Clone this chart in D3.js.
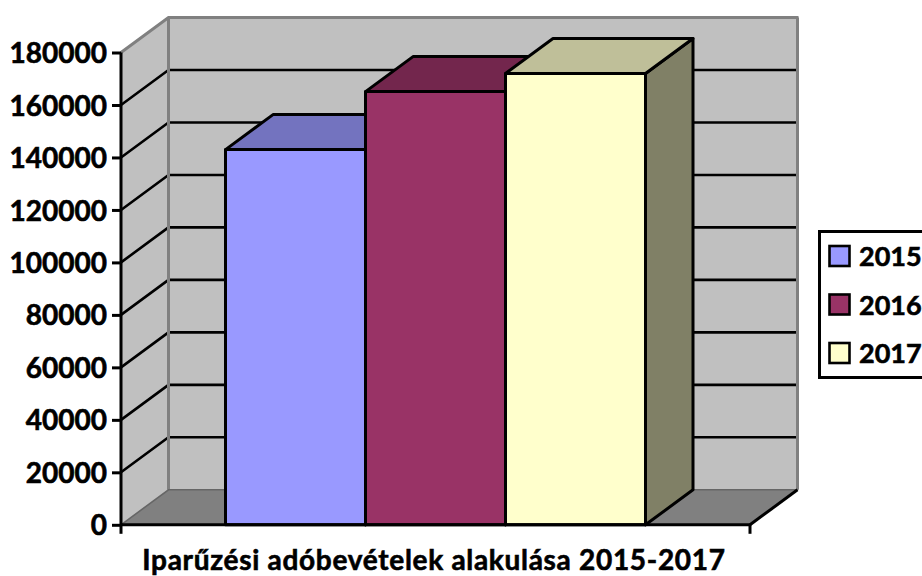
<!DOCTYPE html>
<html><head><meta charset="utf-8">
<script src="https://cdn.jsdelivr.net/npm/d3@7"></script>
<style>html,body{margin:0;padding:0;background:#fff;overflow:hidden}svg{display:block}text{font-family:Lato,"Open Sans",sans-serif;font-weight:700;fill:#000;stroke:#000;stroke-width:.6px}</style>
</head><body><svg id="c" width="922" height="576"></svg>
<script>
const years = ["2015","2016","2017"];
const values = [143000,165100,172000];
const yTicks = [0,20000,40000,60000,80000,100000,120000,140000,160000,180000];
const faceColors = ["#9999ff","#993366","#ffffcc"];
const topColors = ["#7373bf","#73264d","#bfbf99"];
const sideColors = ["#666699","#66223f","#808066"];
const title = "Iparűzési adóbevételek alakulása 2015-2017";

const svg = d3.select("#c");
const y = d3.scaleLinear().domain([0,180000]).range([524.8,52.5]);
const x = d3.scaleBand().domain(years).range([225.5,645.5]);
const left=121, right=750, dx=47.5, dy=-35;
const poly = (pts)=>pts.map(p=>p.join(",")).join(" ");
const y0=y(0), yT=y(180000);
const sw=3;

svg.append("polygon").attr("points",poly([[left,yT],[left+dx,yT+dy],[left+dx,y0+dy],[left,y0]])).attr("fill","#c0c0c0");
svg.append("polygon").attr("points",poly([[left+dx,yT+dy],[right+dx,yT+dy],[right+dx,y0+dy],[left+dx,y0+dy]])).attr("fill","#c0c0c0");
svg.append("polygon").attr("points",poly([[left,y0],[left+dx,y0+dy],[right+dx,y0+dy],[right,y0]])).attr("fill","#808080");

const grid = yTicks.filter(t=>t>0&&t<180000);
svg.append("g").selectAll("polyline").data(grid).join("polyline")
  .attr("points",t=>poly([[left,y(t)],[left+dx,y(t)+dy],[right+dx,y(t)+dy]]))
  .attr("fill","none").attr("stroke","#000").attr("stroke-width",2.6);

svg.append("polyline").attr("points",poly([[left,yT],[left+dx,yT+dy],[right+dx+1,yT+dy]])).attr("fill","none").attr("stroke","#808080").attr("stroke-width",sw);
svg.append("line").attr("x1",left+dx).attr("x2",left+dx).attr("y1",yT+dy).attr("y2",y0+dy).attr("stroke","#808080").attr("stroke-width",sw);
svg.append("line").attr("x1",right+dx).attr("x2",right+dx).attr("y1",yT+dy).attr("y2",y0+dy).attr("stroke","#808080").attr("stroke-width",sw);
svg.append("polyline").attr("points",poly([[left,y0],[left+dx,y0+dy],[right+dx,y0+dy]])).attr("fill","none").attr("stroke","#666").attr("stroke-width",1.6);

svg.append("line").attr("x1",right).attr("y1",y0).attr("x2",right+dx).attr("y2",y0+dy).attr("stroke","#000").attr("stroke-width",sw);

const bars = svg.append("g").attr("stroke","#000").attr("stroke-width",sw).attr("stroke-linejoin","round");
years.forEach((yr,i)=>{
  const x0=x(yr), x1=x0+x.bandwidth(), t=y(values[i]);
  bars.append("polygon").attr("points",poly([[x1,t],[x1+dx,t+dy],[x1+dx,y0+dy],[x1,y0]])).attr("fill",sideColors[i]);
  bars.append("polygon").attr("points",poly([[x0,t],[x0+dx,t+dy],[x1+dx,t+dy],[x1,t]])).attr("fill",topColors[i]);
  bars.append("rect").attr("x",x0).attr("y",t).attr("width",x1-x0).attr("height",y0-t).attr("fill",faceColors[i]);
});

const ax = d3.axisLeft(y).tickValues(yTicks).tickFormat(d3.format("d")).tickSize(9).tickPadding(5);
const gy = svg.append("g").attr("transform",`translate(${left},0)`).call(ax);
gy.attr("font-family",null).attr("font-size",null);
gy.selectAll("path,line").attr("stroke","#000").attr("stroke-width",sw);
gy.select("path").attr("d",`M0,${yT}V${y0}`);
gy.selectAll("text").attr("font-size",28).attr("dy","0.36em");
const xb = svg.append("g").attr("stroke","#000").attr("stroke-width",sw);
xb.append("line").attr("x1",left-1).attr("x2",right+1).attr("y1",y0).attr("y2",y0);
xb.selectAll("line.t").data([left,right]).join("line").attr("class","t").attr("x1",d=>d).attr("x2",d=>d).attr("y1",y0).attr("y2",y0+9);

svg.append("text").attr("x",434).attr("y",570).attr("text-anchor","middle").attr("font-size",28).attr("letter-spacing",0.7).text(title);

const lg = svg.append("g");
lg.append("rect").attr("x",819.5).attr("y",231.5).attr("width",120).attr("height",146).attr("fill","#fff").attr("stroke","#000").attr("stroke-width",sw);
const ly = d3.scalePoint().domain(years).range([256,353]);
years.forEach((yr,i)=>{
  lg.append("rect").attr("x",829.5).attr("y",ly(yr)-10).attr("width",20).attr("height",20).attr("fill",faceColors[i]).attr("stroke","#000").attr("stroke-width",2.6);
  lg.append("text").attr("x",859).attr("y",ly(yr)+10).attr("font-size",27).text(yr);
});
</script></body></html>
